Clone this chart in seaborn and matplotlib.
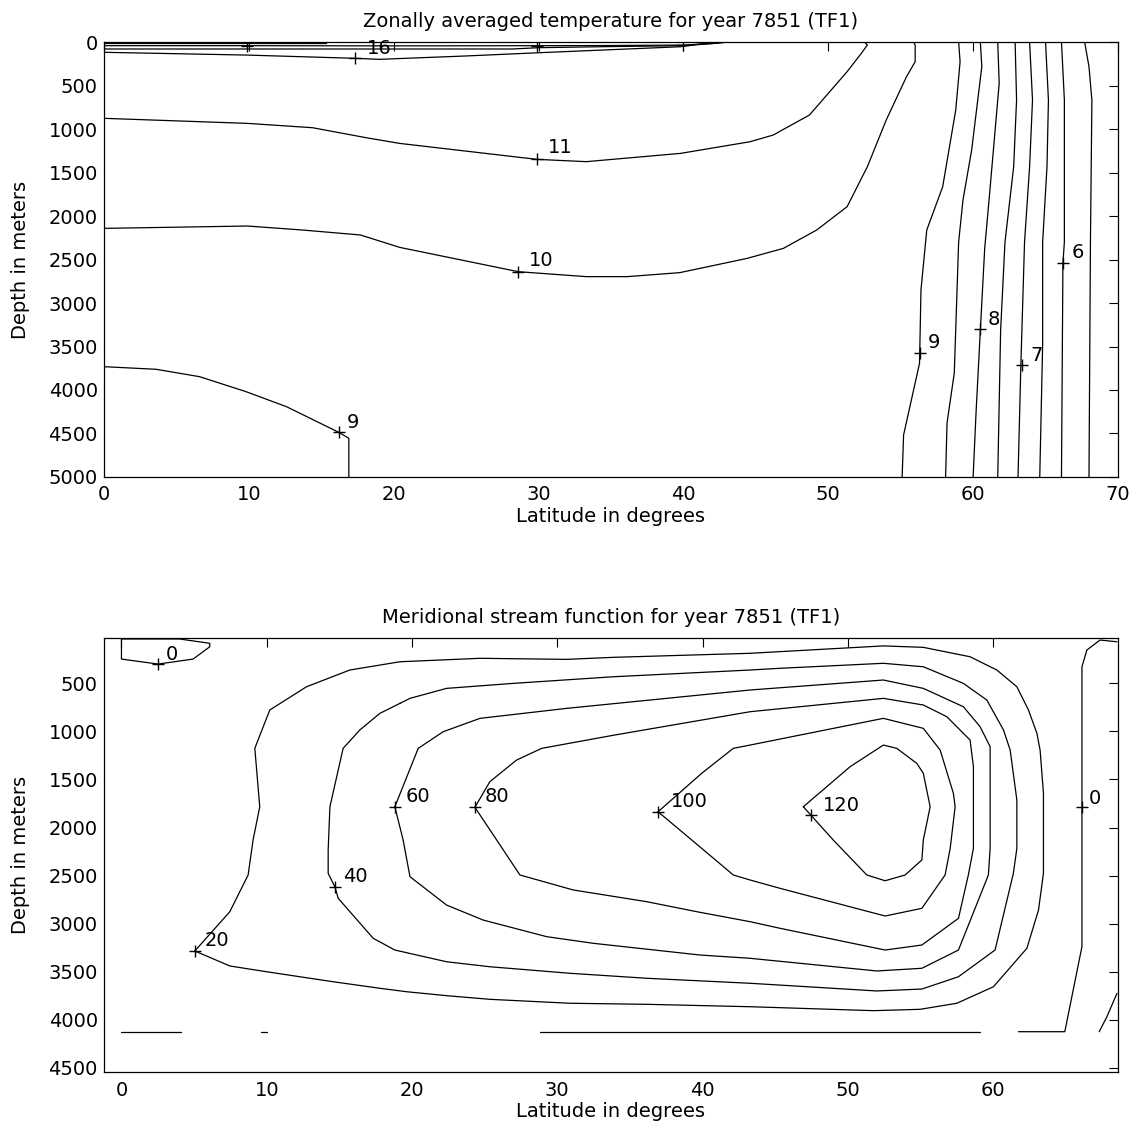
import matplotlib
matplotlib.use("Agg")
import matplotlib.pyplot as plt
import numpy as np
import pandas as pd
import seaborn as sns

# ---------------------------------------------------------------
# Zonally averaged temperature (deg C): contour paths (latitude, depth m)
# ---------------------------------------------------------------
temp_surface_a = [(0, 12), (8, 12), (15.3, 12)]
temp_surface_b = [(0, 42), (10, 42), (20, 44), (29.9, 42), (35, 40), (40, 35), (42.5, 12), (43, 0)]
temp_surface_c = [(0, 80), (19.7, 80), (28.2, 80), (30, 65), (35, 52), (40, 42), (42.2, 15), (42.6, 0)]
temp_16 = [(0, 118), (9.9, 150), (17.3, 187), (19.0, 199), (25, 160), (30, 123),
           (34.7, 90), (39.8, 54), (41.8, 8), (42.0, 0)]
temp_11 = [(0, 877), (9.9, 935), (14.4, 985), (18.2, 1103), (20.4, 1165), (29.9, 1349),
           (33.3, 1375), (39.8, 1280), (44.6, 1146), (46.2, 1069), (48.7, 839),
           (51.3, 341), (52.3, 126), (52.7, 34), (52.5, 0)]
temp_10 = [(0, 2142), (9.9, 2115), (13.7, 2161), (17.7, 2218), (20.4, 2360), (28.6, 2640),
           (33.3, 2697), (36.1, 2697), (39.75, 2651), (44.4, 2487), (46.9, 2372),
           (49.2, 2161), (51.3, 1893), (52.7, 1433), (54.0, 897), (55.4, 399),
           (56.0, 226), (56.0, 34), (55.9, 0)]
temp_9_south = [(0, 3732), (3.6, 3762), (6.6, 3847), (9.8, 4019), (12.6, 4192),
                (16.2, 4486), (16.9, 4555), (16.9, 5000)]
temp_9_north = [(55.1, 5000), (55.2, 4517), (56.3, 3693), (56.4, 2851), (56.8, 2161),
                (57.9, 1663), (58.8, 782), (59.1, 226), (59.0, 0)]
temp_8_5 = [(58.1, 5000), (58.2, 4380), (58.7, 3805), (59.0, 2300), (59.3, 1816),
            (59.9, 1241), (60.6, 284), (60.5, 0)]
temp_8 = [(60.0, 5000), (60.2, 4268), (60.5, 3310), (60.8, 2372), (61.1, 1816),
          (61.5, 1050), (61.8, 475), (61.7, 0)]
temp_7_5 = [(61.7, 5000), (61.9, 3310), (62.2, 2300), (62.8, 1433), (63.0, 667), (62.9, 0)]
temp_7 = [(63.1, 5000), (63.3, 3693), (63.55, 2300), (63.9, 1433), (64.1, 667), (63.9, 0)]
temp_6_5 = [(64.6, 5000), (64.8, 3480), (64.8, 2300), (65.1, 1433), (65.2, 667), (65.0, 0)]
temp_6 = [(66.1, 5000), (66.2, 2544), (66.3, 2300), (66.3, 667), (66.1, 0)]
temp_5_5 = [(68.0, 5000), (68.1, 2300), (68.2, 667), (68.0, 284), (67.7, 0)]

temp_label_marks = [(9.9, 42), (29.9, 42), (40.0, 35), (17.3, 187), (29.9, 1349),
                    (28.6, 2640), (16.2, 4486), (56.3, 3571), (60.5, 3303),
                    (63.4, 3713), (66.2, 2544)]
temp_label_text = ["16", "11", "10", "9", "9", "8", "7", "6"]
temp_label_lat = [19.0, 31.5, 30.2, 17.2, 57.3, 61.4, 64.4, 67.2]
temp_label_depth = [69, 1218, 2517, 4370, 3450, 3195, 3598, 2425]

# ---------------------------------------------------------------
# Meridional overturning stream function: contour paths (latitude, depth m)
# ---------------------------------------------------------------
psi_0_south = [(0, 38), (0, 247), (2.52, 299), (4.93, 247), (6.08, 119), (6.08, 83),
               (4.0, 38), (0, 38)]
psi_20 = [(5.05, 3285), (7.46, 2876), (8.72, 2494), (9.06, 2130), (9.52, 1784), (9.18, 1176),
          (10.21, 777), (12.74, 535), (15.72, 361), (19.17, 275), (24.68, 239), (30.65, 250),
          (33.86, 229), (43.27, 187), (52.45, 110), (55.2, 125), (58.42, 223), (60.26, 361),
          (61.64, 535), (62.44, 777), (63.02, 1020), (63.24, 1194), (63.47, 1644),
          (63.47, 2217), (63.47, 2477), (63.13, 2859), (62.33, 3257), (60.03, 3657),
          (57.51, 3829), (54.98, 3892), (51.76, 3906), (43.27, 3865), (36.16, 3840),
          (30.87, 3829), (25.36, 3788), (22.38, 3750), (19.63, 3709), (17.79, 3673),
          (14.57, 3605), (9.99, 3501), (7.46, 3441), (5.05, 3285)]
psi_40 = [(19.17, 708), (17.79, 812), (16.41, 985), (15.26, 1176), (14.35, 1784),
          (14.23, 2234), (14.23, 2477), (14.69, 2616), (14.92, 2737), (17.33, 3153),
          (18.82, 3275), (22.38, 3397), (25.36, 3449), (30.87, 3517), (36.16, 3569),
          (43.27, 3621), (52.0, 3701), (55.1, 3681), (57.62, 3553), (60.14, 3275),
          (61.4, 2477), (61.64, 2217), (61.64, 1714), (61.18, 1194), (60.72, 985),
          (59.57, 673), (57.96, 500), (55.2, 327), (52.45, 291), (45.34, 343),
          (43.27, 361), (33.86, 431), (26.97, 500), (22.38, 552), (19.86, 656), (19.17, 708)]
psi_60 = [(18.82, 1784), (20.43, 1176), (22.15, 1003), (24.68, 864), (30.65, 760),
          (43.27, 569), (52.45, 465), (55.2, 552), (57.96, 743), (59.11, 951), (59.8, 1159),
          (59.8, 2217), (59.68, 2494), (57.62, 3275), (55.1, 3465), (52.0, 3493),
          (43.27, 3361), (39.83, 3327), (32.48, 3205), (29.27, 3136), (24.9, 2963),
          (22.38, 2807), (19.86, 2512), (19.39, 2130), (18.82, 1784)]
psi_80 = [(24.33, 1790), (25.36, 1523), (27.2, 1298), (28.93, 1176), (33.86, 1040),
          (43.27, 795), (52.45, 656), (55.2, 725), (56.82, 847), (58.42, 1090),
          (58.65, 1367), (58.65, 2217), (58.3, 2494), (57.62, 2945), (55.1, 3223),
          (52.57, 3275), (45.34, 3049), (43.27, 2980), (39.6, 2876), (36.16, 2772),
          (31.1, 2650), (27.43, 2494), (25.83, 2130), (24.33, 1790)]
psi_100 = [(36.94, 1836), (39.94, 1436), (42.12, 1176), (43.27, 1142), (52.45, 864),
           (55.2, 968), (56.36, 1194), (57.27, 1644), (57.39, 1784), (57.05, 2217),
           (56.7, 2494), (55.1, 2841), (52.57, 2921), (45.34, 2633), (43.27, 2546),
           (42.12, 2494), (39.26, 2130), (36.94, 1836)]
psi_120 = [(46.94, 1784), (50.16, 1367), (52.45, 1142), (53.37, 1176), (54.75, 1332),
           (55.2, 1436), (55.67, 1784), (55.2, 2130), (55.1, 2338), (53.95, 2494),
           (52.57, 2554), (51.31, 2494), (49.0, 2130), (46.94, 1784)]
psi_0_north = [(68.53, 67), (67.37, 49), (66.46, 153), (66.12, 327), (66.12, 3240),
               (64.94, 4125), (61.75, 4125)]
psi_0_floor_a = [(0, 4125), (4.13, 4125)]
psi_0_floor_b = [(9.64, 4125), (9.99, 4125)]
psi_0_floor_c = [(28.8, 4125), (59.1, 4125)]
psi_0_corner = [(67.31, 4125), (67.84, 3969), (68.53, 3726)]

psi_label_marks = [(2.52, 299), (5.05, 3285), (14.69, 2616), (18.82, 1784),
                   (24.33, 1790), (36.94, 1836), (47.47, 1870), (66.12, 1784)]
psi_label_text = ["0", "20", "40", "60", "80", "100", "120", "0"]
psi_label_lat = [3.5, 6.54, 16.07, 20.43, 25.88, 39.07, 49.54, 67.04]
psi_label_depth = [195, 3181, 2512, 1680, 1680, 1732, 1773, 1696]


def contour_frame(paths):
    rows = []
    for name, pts in paths.items():
        for i, (lat, depth) in enumerate(pts):
            rows.append({"curve": name, "order": i, "lat": lat, "depth": depth})
    return pd.DataFrame(rows)


temp_df = contour_frame({
    "s_a": temp_surface_a, "s_b": temp_surface_b, "s_c": temp_surface_c, "16": temp_16,
    "11": temp_11, "10": temp_10, "9s": temp_9_south, "9n": temp_9_north,
    "8.5": temp_8_5, "8": temp_8, "7.5": temp_7_5, "7": temp_7, "6.5": temp_6_5,
    "6": temp_6, "5.5": temp_5_5,
})
psi_df = contour_frame({
    "0s": psi_0_south, "20": psi_20, "40": psi_40, "60": psi_60, "80": psi_80,
    "100": psi_100, "120": psi_120, "0n": psi_0_north, "fa": psi_0_floor_a,
    "fb": psi_0_floor_b, "fc": psi_0_floor_c, "corner": psi_0_corner,
})

sns.set_style("white", rc={
    "axes.edgecolor": "black",
    "axes.linewidth": 0.9,
    "axes.labelcolor": "black",
    "text.color": "black",
    "xtick.color": "black",
    "ytick.color": "black",
    "xtick.direction": "in",
    "ytick.direction": "in",
})
plt.rcParams["font.family"] = ["DejaVu Sans"]
FS = 14

fig = plt.figure(figsize=(11.32, 11.21), dpi=100)
ax_t = fig.add_axes([0.0919, 0.5745, 0.8957, 0.388])
ax_s = fig.add_axes([0.0919, 0.0434, 0.8957, 0.3877])


def draw_panel(ax, df, marks, texts, tlat, tdepth):
    sns.lineplot(data=df, x="lat", y="depth", units="curve", estimator=None, sort=False,
                 color="black", linewidth=0.9, ax=ax, legend=False)
    mk = pd.DataFrame(marks, columns=["lat", "depth"])
    sns.scatterplot(data=mk, x="lat", y="depth", marker="+", s=75, color="black",
                    linewidth=1.0, ax=ax, legend=False, zorder=3)
    for t, x, y in zip(texts, tlat, tdepth):
        ax.text(x, y, t, ha="center", va="center", fontsize=FS, color="black")
    ax.tick_params(axis="both", which="both", direction="in", length=6.5, width=0.8,
                   top=True, right=True, labelsize=FS, colors="black")
    ax.tick_params(axis="x", pad=6)
    ax.tick_params(axis="y", pad=4.5)
    for sp in ax.spines.values():
        sp.set_visible(True)
        sp.set_color("black")
        sp.set_linewidth(0.9)
    ax.set_xlabel("Latitude in degrees", fontsize=FS, color="black")
    ax.set_ylabel("Depth in meters", fontsize=FS, color="black")
    ax.xaxis.set_label_coords(0.5, -0.068)
    ax.yaxis.set_label_coords(-0.073, 0.5)


draw_panel(ax_t, temp_df, temp_label_marks, temp_label_text, temp_label_lat, temp_label_depth)
ax_t.set_xlim(0, 70)
ax_t.set_ylim(5000, 0)
ax_t.set_xticks(np.arange(0, 71, 10))
ax_t.set_yticks(np.arange(0, 5001, 500))
ax_t.set_title("Zonally averaged temperature for year 7851 (TF1)", fontsize=FS, pad=11,
               color="black")

draw_panel(ax_s, psi_df, psi_label_marks, psi_label_text, psi_label_lat, psi_label_depth)
ax_s.set_xlim(-1.2, 68.6)
ax_s.set_ylim(4548, 25)
ax_s.set_xticks(np.arange(0, 61, 10))
ax_s.set_yticks(np.arange(500, 4501, 500))
ax_s.set_title("Meridional stream function for year 7851 (TF1)", fontsize=FS, pad=10.6,
               color="black")

fig.savefig("out.png", dpi=100, facecolor="white")
